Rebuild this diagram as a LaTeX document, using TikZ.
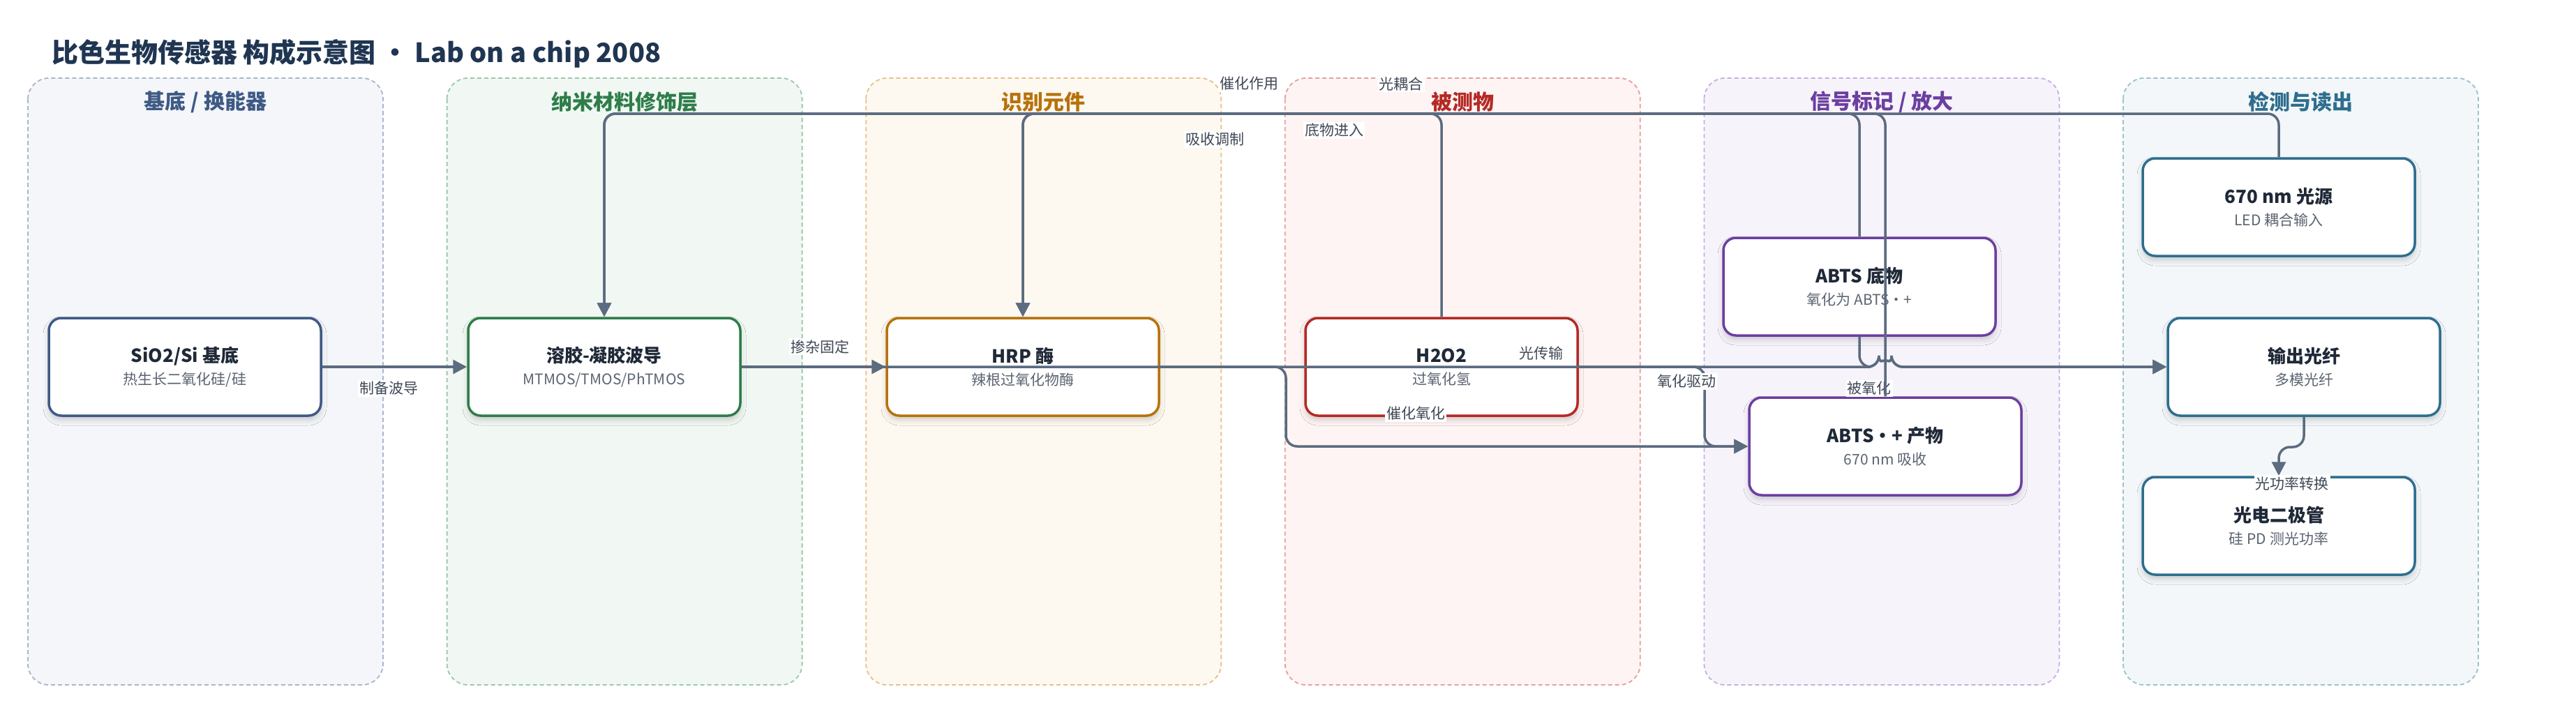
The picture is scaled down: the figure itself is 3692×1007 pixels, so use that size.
\documentclass[tikz,border=0pt]{standalone}
\usepackage{fontspec}
\setmainfont{Noto Sans CJK SC}
\usepackage{tikz}
\usetikzlibrary{arrows.meta,shadows.blur}
\definecolor{edge}{HTML}{5B6B80}
\definecolor{ink}{HTML}{1F2937}
\definecolor{subink}{HTML}{5B6472}
\definecolor{lblink}{HTML}{3F4856}
\definecolor{titleink}{HTML}{1F3552}
\definecolor{cA}{HTML}{3E5A85}
\definecolor{fA}{HTML}{F4F6FA}
\definecolor{bA}{HTML}{A9B6CA}
\definecolor{cB}{HTML}{2E7D4A}
\definecolor{fB}{HTML}{F1F8F3}
\definecolor{bB}{HTML}{9CC8AA}
\definecolor{cC}{HTML}{B7720B}
\definecolor{fC}{HTML}{FDF8F0}
\definecolor{bC}{HTML}{E8C088}
\definecolor{cD}{HTML}{B42A25}
\definecolor{fD}{HTML}{FDF4F3}
\definecolor{bD}{HTML}{E5A0A0}
\definecolor{cE}{HTML}{6B3FA0}
\definecolor{fE}{HTML}{F7F3FB}
\definecolor{bE}{HTML}{C7AEE0}
\definecolor{cF}{HTML}{2E6E8E}
\definecolor{fF}{HTML}{F3F7F9}
\definecolor{bF}{HTML}{9DC0CF}
\tikzset{
  lane/.style 2 args={draw=#1, fill=#2, line width=1.8pt, dash pattern=on 6pt off 4pt, rounded corners=30pt},
  hdr/.style={font=\fontsize{30}{36}\selectfont\bfseries, text=#1},
  blk/.style={draw=#1, line width=3.5pt, fill=white, rounded corners=18pt,
    minimum width=390pt, minimum height=140pt, align=center, text=ink,
    font=\fontsize{21}{32}\selectfont,
    blur shadow={shadow xshift=0pt, shadow yshift=-6pt, shadow blur radius=8pt, shadow opacity=18}},
  conn/.style={draw=edge, line width=3.5pt, rounded corners=16pt, -{Triangle[length=20pt,width=20pt]}},
  wire/.style={draw=edge, line width=3.5pt, rounded corners=16pt},
  lbl/.style={fill=white, text=lblink, inner sep=2pt, font=\fontsize{21}{24}\selectfont}
}
\newcommand{\btitle}[1]{{\fontsize{26}{32}\selectfont\bfseries #1}}
\newcommand{\subt}[1]{{\color{subink}#1}}

\begin{document}
\begin{tikzpicture}[x=1pt,y=-1pt]
  \useasboundingbox[fill=white] (0,0) rectangle (3692,1007);

  \node[anchor=west, inner sep=0pt, text=titleink, font=\fontsize{38}{44}\selectfont\bfseries] (title) at (74,77) {比色生物传感器 构成示意图 · Lab on a chip 2008};

  % lanes
  \foreach \i/\bd/\fl/\tc/\txt in {0/bA/fA/cA/{基底 / 换能器}, 1/bB/fB/cB/纳米材料修饰层,
      2/bC/fC/cC/识别元件, 3/bD/fD/cD/被测物, 4/bE/fE/cE/{信号标记 / 放大}, 5/bF/fF/cF/检测与读出}{
    \draw[lane={\bd}{\fl}] ({40+600.6*\i},112) rectangle ({549+600.6*\i},982);
    \node[hdr=\tc] (lane\i) at ({294.5+600.6*\i},146) {\txt};
  }

  % blocks
  \node[blk=cA] (sio2) at (265,526) {\btitle{SiO2/Si 基底}\\\subt{热生长二氧化硅/硅}};
  \node[blk=cB] (solgel) at (866,526) {\btitle{溶胶-凝胶波导}\\\subt{MTMOS/TMOS/PhTMOS}};
  \node[blk=cC] (hrp) at (1466,526) {\btitle{HRP 酶}\\\subt{辣根过氧化物酶}};
  \node[blk=cD] (hh) at (2066,526) {\btitle{H2O2}\\\subt{过氧化氢}};
  \node[blk=cE] (abts) at (2665,411) {\btitle{ABTS 底物}\\\subt{氧化为 ABTS•+}};
  \node[blk=cE] (abtsp) at (2702,640) {\btitle{ABTS•+ 产物}\\\subt{670 nm 吸收}};
  \node[blk=cF] (led) at (3266,297) {\btitle{670 nm 光源}\\\subt{LED 耦合输入}};
  \node[blk=cF] (fiber) at (3302,526) {\btitle{输出光纤}\\\subt{多模光纤}};
  \node[blk=cF] (pd) at (3266,754) {\btitle{光电二极管}\\\subt{硅 PD 测光功率}};

  % connectors
  \draw[conn] (sio2) -- (solgel);
  \draw[conn] (solgel) -- (hrp);
  \draw[conn] (solgel.east) -- (2693,526) arc[start angle=180, end angle=0, radius=9pt] -- (fiber.west);
  \draw[conn] (hrp.east) -- (1843,526) -- (1843,640) -- (abtsp.west);
  \draw[conn] (hh.east) -- (2443,526) -- (2443,640) -- (abtsp.west);
  \draw[conn] (hh.north) -- (2066,163) -- (1466,163) -- (hrp.north);
  \draw[conn] (abts.north) -- (2665,163) -- (1466,163) -- (hrp.north);
  \draw[conn] (led.north) -- (3266,163) -- (866,163) -- (solgel.north);
  \draw[conn] (abts.south) -- (2665,526) -- (2693,526) arc[start angle=180, end angle=0, radius=9pt] -- (fiber.west);
  \draw[conn] (fiber.south) -- (3302,641) -- (3266,641) -- (pd.north);

  % labels
  \node[lbl] (l1) at (557,557) {制备波导};
  \node[lbl] (l2) at (1175,497) {掺杂固定};
  \node[lbl] (l3) at (1790,120) {催化作用};
  \node[lbl] (l4) at (2008,120) {光耦合};
  \node[lbl] (l5) at (1741,200) {吸收调制};
  \node[lbl] (l6) at (1912,187) {底物进入};
  \node[lbl] (l7) at (2209,506) {光传输};
  \node[lbl] (l8) at (2417,547) {氧化驱动};
  \node[lbl] (l9) at (2029,593) {催化氧化};
  \node[lbl] (l10) at (2679,557) {被氧化};
  \node[lbl] (l11) at (3285,693) {光功率转换};

  \draw[conn] (abtsp.north) -- (2702,163) -- (866,163) -- (solgel.north);
\end{tikzpicture}
\end{document}
